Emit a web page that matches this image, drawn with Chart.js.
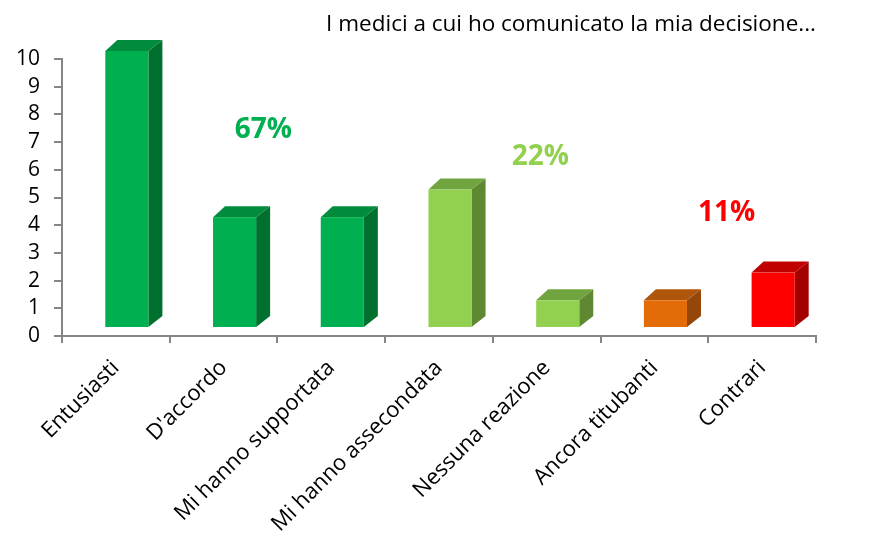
<!DOCTYPE html>
<html>
<head>
<meta charset="utf-8">
<script src="https://cdn.jsdelivr.net/npm/chart.js@4"></script>
<style>
  html, body { margin: 0; padding: 0; background: #fff; }
  #wrap { width: 883px; height: 540px; }
</style>
</head>
<body>
<div id="wrap"><canvas id="chart" width="883" height="540"></canvas></div>
<script>
// Dati del grafico
const categories = ['Entusiasti', "D'accordo", 'Mi hanno supportata', 'Mi hanno assecondata', 'Nessuna reazione', 'Ancora titubanti', 'Contrari'];
const values = [10, 4, 4, 5, 1, 1, 2];
const yTicks = [0, 1, 2, 3, 4, 5, 6, 7, 8, 9, 10];

// Colori 3D: fronte, lato, sopra
const frontColors = ['#00B050', '#00B050', '#00B050', '#92D050', '#92D050', '#E36C09', '#FF0000'];
const sideColors  = ['#00702F', '#00702F', '#00702F', '#5E8832', '#5E8832', '#944708', '#A50000'];
const topColors   = ['#008B3D', '#008B3D', '#008B3D', '#70A43E', '#70A43E', '#B0560A', '#C00000'];

// Etichette percentuali (posizione in unità di categoria / valore)
const pctLabels = ['67%', '22%', '11%'];
const pctColors = ['#00B050', '#92D050', '#FF0000'];
const pctX = [1.37, 3.94, 5.67];
const pctY = [7.45, 6.45, 4.45];

const FONT = "'Open Sans', sans-serif";

// Plugin per disegnare le barre in 3D
const bars3d = {
  id: 'bars3d',
  afterDatasetsDraw(chart) {
    const ctx = chart.ctx;
    const meta = chart.getDatasetMeta(0);
    const dx = 14, dy = -11, shiftX = 11, shiftY = -8;
    ctx.save();
    meta.data.forEach((bar, i) => {
      const p = bar.getProps(['x', 'y', 'base', 'width'], true);
      const l = p.x - p.width / 2 + shiftX;
      const r = l + p.width;
      const t = p.y + shiftY;
      const b = p.base + shiftY;
      // lato
      ctx.fillStyle = sideColors[i];
      ctx.beginPath();
      ctx.moveTo(r, t); ctx.lineTo(r + dx, t + dy); ctx.lineTo(r + dx, b + dy); ctx.lineTo(r, b);
      ctx.closePath(); ctx.fill();
      // sopra
      ctx.fillStyle = topColors[i];
      ctx.beginPath();
      ctx.moveTo(l, t); ctx.lineTo(l + dx - 2, t + dy); ctx.lineTo(r + dx, t + dy); ctx.lineTo(r, t);
      ctx.closePath(); ctx.fill();
      // fronte
      ctx.fillStyle = frontColors[i];
      ctx.fillRect(l, t, p.width, b - t);
    });
    // percentuali
    const xs = chart.scales.x, ys = chart.scales.y;
    ctx.font = 'bold 28px ' + FONT;
    ctx.textAlign = 'center';
    ctx.textBaseline = 'middle';
    pctLabels.forEach((txt, i) => {
      ctx.fillStyle = pctColors[i];
      ctx.fillText(txt, xs.getPixelForValue(pctX[i]), ys.getPixelForValue(pctY[i]));
    });
    ctx.restore();
  }
};

const ctx = document.getElementById('chart').getContext('2d');
new Chart(ctx, {
  type: 'bar',
  data: {
    labels: categories,
    datasets: [{
      data: values,
      backgroundColor: 'rgba(0,0,0,0)',
      categoryPercentage: 1,
      barPercentage: 0.4
    }]
  },
  options: {
    responsive: false,
    animation: false,
    layout: { padding: { top: 0, right: 67, left: 0, bottom: 0 } },
    plugins: {
      legend: { display: false },
      tooltip: { enabled: false },
      title: {
        display: true,
        text: 'I medici a cui ho comunicato la mia decisione...',
        align: 'end',
        color: '#000',
        font: { family: FONT, size: 22.5, weight: 'normal' },
        padding: { top: 11, bottom: 21 }
      }
    },
    scales: {
      x: {
        grid: { drawOnChartArea: false, tickLength: 7, color: '#868686', lineWidth: 2, offset: true },
        border: { color: '#868686', width: 2 },
        ticks: {
          color: '#000', maxRotation: 45, minRotation: 45, padding: 12,
          font: { family: FONT, size: 22 }
        },
        afterFit(s) { s.height = 204; }
      },
      y: {
        min: 0, max: 10,
        afterBuildTicks(s) { s.ticks = yTicks.map(v => ({ value: v })); },
        grid: { drawOnChartArea: false, tickLength: 8, color: '#868686', lineWidth: 2 },
        border: { color: '#868686', width: 2 },
        ticks: {
          color: '#000', padding: 14, autoSkip: false,
          font: { family: FONT, size: 21 }
        },
        afterFit(s) { s.width = 62; }
      }
    }
  },
  plugins: [bars3d]
});
</script>
</body>
</html>
